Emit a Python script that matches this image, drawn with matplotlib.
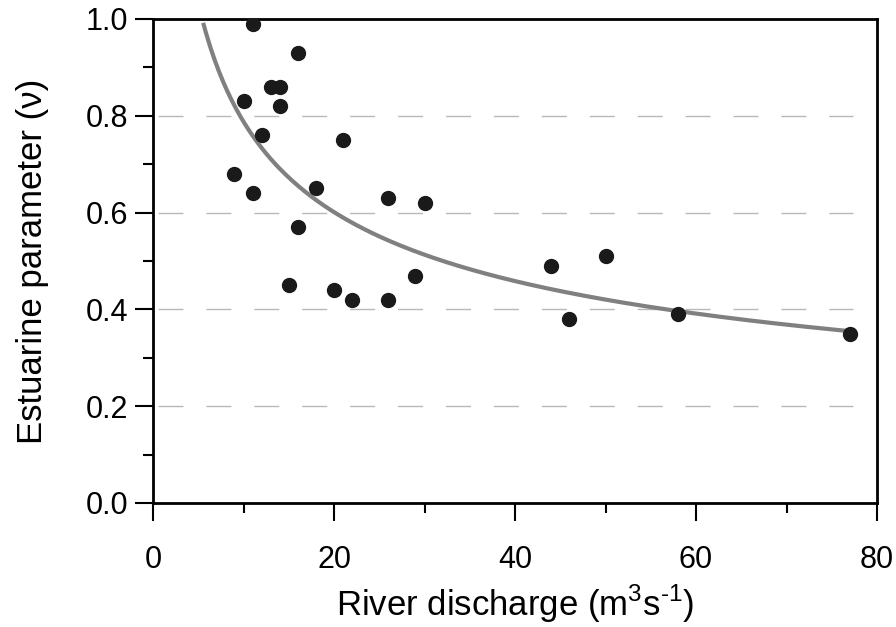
import numpy as np
import matplotlib
matplotlib.use("Agg")
import matplotlib.pyplot as plt
from matplotlib.ticker import MultipleLocator

plt.rcParams['font.family'] = ['Liberation Sans', 'DejaVu Sans']
plt.rcParams['mathtext.fontset'] = 'custom'
plt.rcParams['mathtext.rm'] = 'Liberation Sans'

discharge = [11, 16, 13, 14, 14, 10, 12, 21, 9, 11, 18, 26, 30, 16, 15, 20, 22, 26, 29, 44, 46, 50, 58, 77]
nu = [0.99, 0.93, 0.86, 0.86, 0.82, 0.83, 0.76, 0.75, 0.68, 0.64, 0.65, 0.63, 0.62, 0.57,
      0.45, 0.44, 0.42, 0.42, 0.47, 0.49, 0.38, 0.51, 0.39, 0.35]
fit_a = 1.936
fit_b = -0.3905
fit_range = (5.6, 77)
grid_levels = [0.2, 0.4, 0.6, 0.8]

fig = plt.figure(figsize=(8.96, 6.27), dpi=100)
ax = fig.add_axes([0.1708, 0.1978, 0.8080, 0.7719])

for y in grid_levels:
    ax.plot([0.6, 77.3], [y, y], color='#b8b8b8', lw=1.0, dashes=(18, 16.5), zorder=1)

xf = np.linspace(fit_range[0], fit_range[1], 300)
ax.plot(xf, fit_a * xf ** fit_b, color='#808080', lw=3, zorder=2)
ax.plot(discharge, nu, 'o', color='#1a1a1a', ms=10, zorder=3)

ax.set_xlim(0, 80)
ax.set_ylim(0, 1.0)
ax.xaxis.set_major_locator(MultipleLocator(20))
ax.xaxis.set_minor_locator(MultipleLocator(10))
ax.yaxis.set_minor_locator(MultipleLocator(0.1))
ax.set_yticks([0, 0.2, 0.4, 0.6, 0.8, 1.0])
ax.set_yticklabels([f"{v:.1f}" for v in [0, 0.2, 0.4, 0.6, 0.8, 1.0]])
ax.tick_params(which='major', direction='out', length=13, width=1.5, labelsize=22)
ax.tick_params(axis='y', which='major', pad=5)
ax.tick_params(axis='x', which='major', pad=17)
ax.tick_params(which='minor', direction='out', length=7, width=1.5)
for s in ax.spines.values():
    s.set_linewidth(2)

ax.set_xlabel(r"River discharge (m$^{3}$s$^{\text{-}1}$)", fontsize=25, labelpad=6)
ax.set_ylabel("Estuarine parameter (\u03bd)", fontsize=25, labelpad=26)

fig.savefig("out.png", dpi=100)
